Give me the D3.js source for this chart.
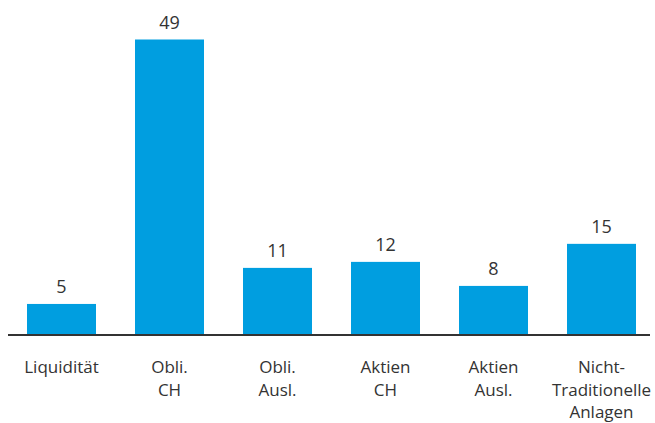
<!DOCTYPE html>
<html>
<head>
<meta charset="utf-8">
<script src="https://cdn.jsdelivr.net/npm/d3@7"></script>
<style>
  html, body { margin: 0; padding: 0; background: #fff; }
  svg { display: block; }
  text { font-family: "Open Sans", "Noto Sans", sans-serif; font-weight: 400; fill: #333; }
</style>
</head>
<body>
<svg id="chart" width="655" height="423"></svg>
<script>
// Asset allocation in percent
const categories = [
  ["Liquidität"],
  ["Obli.", "CH"],
  ["Obli.", "Ausl."],
  ["Aktien", "CH"],
  ["Aktien", "Ausl."],
  ["Nicht-", "Traditionelle", "Anlagen"]
];
const values = [5, 49, 11, 12, 8, 15];

const svg = d3.select("#chart");
const baseline = 334;

const x = d3.scaleBand()
  .domain(d3.range(values.length))
  .range([0, 663])
  .paddingInner(0.3611)
  .paddingOuter(0.25);

const y = d3.scaleLinear()
  .domain([0, 49])
  .range([baseline, 39.5]);

svg.append("g")
  .selectAll("rect")
  .data(values)
  .join("rect")
  .attr("x", (d, i) => x(i))
  .attr("width", x.bandwidth())
  .attr("y", d => y(d))
  .attr("height", d => baseline - y(d))
  .attr("fill", "#009ee0");

// value labels above bars
svg.append("g")
  .selectAll("text")
  .data(values)
  .join("text")
  .attr("x", (d, i) => x(i) + x.bandwidth() / 2)
  .attr("y", d => y(d) - 10.5)
  .attr("text-anchor", "middle")
  .attr("font-size", 18)
  .text(d => d);

// baseline axis
svg.append("line")
  .attr("x1", 8).attr("x2", 650)
  .attr("y1", baseline + 1).attr("y2", baseline + 1)
  .attr("stroke", "#333")
  .attr("stroke-width", 2);

// category labels, multi-line
const labels = svg.append("g")
  .selectAll("text")
  .data(categories)
  .join("text")
  .attr("text-anchor", "middle")
  .attr("font-size", 17)
  .attr("x", (d, i) => x(i) + x.bandwidth() / 2)
  .attr("y", 373);
labels.selectAll("tspan")
  .data(d => d)
  .join("tspan")
  .attr("x", function () { return this.parentNode.getAttribute("x"); })
  .attr("dy", (d, j) => j === 0 ? 0 : 22.5)
  .text(d => d);
</script>
</body>
</html>
